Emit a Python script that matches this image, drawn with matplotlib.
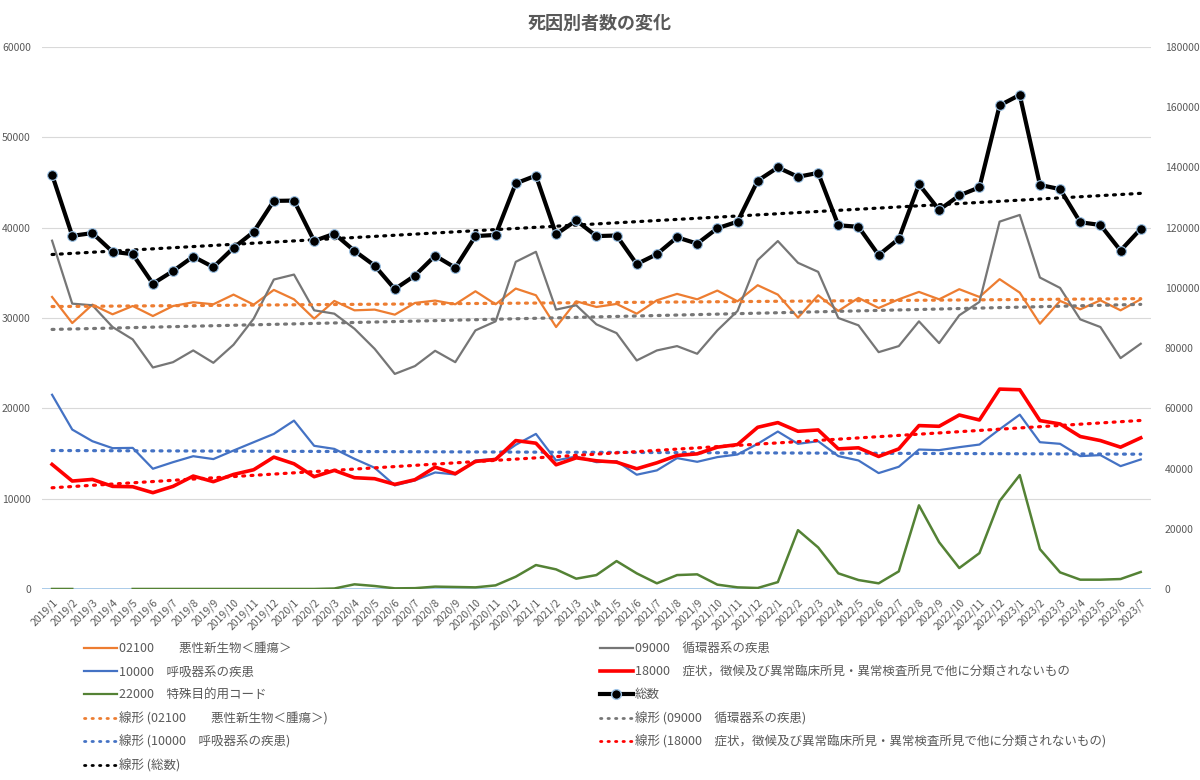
import numpy as np
import matplotlib
matplotlib.use("Agg")
import matplotlib.pyplot as plt
from matplotlib.lines import Line2D

plt.rcParams['font.family'] = ['Noto Sans CJK JP', 'DejaVu Sans']

# 2019/1 .. 2023/7
months = [f"{y}/{m}" for y in range(2019, 2024) for m in range(1, 13)][:55]

# 02100 悪性新生物
s02100 = [32330, 29440, 31480, 30410, 31330, 30220, 31330, 31740, 31520, 32590,
          31480, 33110, 32070, 29930, 31890, 30850, 30930, 30370, 31670, 31930,
          31520, 32960, 31520, 33260, 32520, 29000, 31850, 31220, 31560, 30480,
          31960, 32670, 32070, 33040, 31850, 33630, 32590, 30040, 32520, 30780,
          32220, 31110, 32070, 32890, 32070, 33190, 32330, 34300, 32810, 29370,
          31890, 30960, 31960, 30850, 32070]
# 09000 循環器系の疾患
s09000 = [38560, 31590, 31410, 29000, 27630, 24520, 25110, 26410, 25040, 27040,
          29930, 34260, 34810, 30850, 30480, 28810, 26590, 23810, 24680, 26370,
          25110, 28630, 29630, 36220, 37330, 30930, 31410, 29300, 28330, 25300,
          26410, 26890, 26040, 28630, 30780, 36410, 38520, 36110, 35110, 30000,
          29190, 26220, 26890, 29630, 27220, 30300, 31780, 40670, 41410, 34480,
          33330, 29850, 29000, 25560, 27150]
# 10000 呼吸器系の疾患
s10000 = [21500, 17650, 16360, 15590, 15620, 13310, 14040, 14700, 14380, 15330,
          16250, 17170, 18640, 15850, 15510, 14410, 13420, 11470, 12020, 12900,
          12680, 14230, 14410, 15960, 17170, 14230, 14670, 14040, 14150, 12650,
          13130, 14490, 14080, 14600, 14890, 16070, 17430, 16070, 16360, 14710,
          14230, 12830, 13530, 15440, 15370, 15700, 15990, 17680, 19300, 16250,
          16070, 14710, 14820, 13600, 14340]
# 18000 症状，徴候及び異常臨床所見...
s18000 = [13790, 11950, 12130, 11360, 11320, 10660, 11360, 12500, 11880, 12680,
          13200, 14600, 13860, 12430, 13130, 12320, 12210, 11580, 12100, 13490,
          12760, 14120, 14340, 16430, 16140, 13750, 14520, 14190, 14040, 13310,
          13970, 14780, 14960, 15700, 15990, 17900, 18420, 17460, 17610, 15510,
          15630, 14670, 15510, 18090, 18010, 19260, 18710, 22130, 22060, 18640,
          18270, 16880, 16430, 15700, 16730]
# 22000 特殊目的用コード
s22000 = [0, 0, np.nan, np.nan, 0, 0, 0, 0, 0, 0,
          0, 0, 0, 0, 50, 515, 330, 70, 90, 260,
          220, 180, 400, 1360, 2650, 2170, 1140, 1540, 3090, 1730,
          625, 1540, 1620, 480, 180, 110, 760, 6510, 4600, 1730,
          990, 625, 1950, 9260, 5180, 2320, 3970, 9740, 12610, 4410,
          1840, 1030, 1030, 1100, 1880]
# 総数 (right axis)
total = [137600, 117300, 118200, 112000, 111200, 101400, 105600, 110400, 106900, 113300,
         118600, 128900, 129000, 115600, 118000, 112300, 107400, 99600, 104100, 110700,
         106700, 117200, 117600, 134700, 137300, 117800, 122400, 117200, 117400, 107900,
         111200, 116800, 114700, 119800, 122000, 135600, 140000, 136900, 138200, 120800,
         120300, 110900, 116300, 134400, 125900, 130700, 133400, 160600, 164100, 134200,
         132800, 121800, 120900, 112400, 119600]

lab02100 = "02100\u3000\u3000悪性新生物＜腫瘍＞"
lab09000 = "09000\u3000循環器系の疾患"
lab10000 = "10000\u3000呼吸器系の疾患"
lab18000 = "18000\u3000症状，徴候及び異常臨床所見・異常検査所見で他に分類されないもの"
lab22000 = "22000\u3000特殊目的用コード"
labtotal = "総数"

c_orange = "#ED7D31"
c_gray = "#767676"
c_blue = "#4472C4"
c_red = "#FF0000"
c_green = "#548235"
c_text = "#595959"

x = np.arange(len(months))

fig = plt.figure(figsize=(12, 7.8), dpi=100)
ax = fig.add_axes([0.035, 0.2449, 0.924, 0.6948])
ax2 = ax.twinx()


def trend(vals):
    v = np.array(vals, dtype=float)
    k, b = np.polyfit(x + 1, v, 1)
    return k * (x + 1) + b


dot = dict(linestyle=(0, (0.6, 2.0)), dash_capstyle="round", lw=2.3)

ax.plot(x, s02100, color=c_orange, lw=1.6, zorder=3)
ax.plot(x, s09000, color=c_gray, lw=1.6, zorder=3)
ax.plot(x, s10000, color=c_blue, lw=1.6, zorder=3)
ax.plot(x, s18000, color=c_red, lw=2.6, zorder=4)
ax.plot(x, s22000, color=c_green, lw=1.8, zorder=3)
ax.plot(x, trend(s02100), color=c_orange, zorder=3, **dot)
ax.plot(x, trend(s09000), color=c_gray, zorder=3, **dot)
ax.plot(x, trend(s10000), color=c_blue, zorder=3, **dot)
ax.plot(x, trend(s18000), color=c_red, zorder=3, **dot)

ax2.plot(x, total, color="black", lw=3, marker="o", markersize=7,
         markerfacecolor="black", markeredgecolor="#9DC3E6", markeredgewidth=0.8, zorder=5)
ax2.plot(x, trend(total), color="black", zorder=4, **dot)

ax.set_xlim(-0.5, len(months) - 0.5)
ax.set_ylim(0, 60000)
ax2.set_ylim(0, 180000)
ax.set_yticks(np.arange(0, 60001, 10000))
ax2.set_yticks(np.arange(0, 180001, 20000))
ax.set_xticks(x)
ax.set_xticklabels(months, rotation=45, ha="right", rotation_mode="anchor", fontsize=7.5, color=c_text)
ax.tick_params(axis="x", length=0, pad=6)
ax.tick_params(axis="y", length=0, labelsize=7.5, labelcolor=c_text, pad=8)
ax2.tick_params(axis="y", length=0, labelsize=7.5, labelcolor=c_text, pad=10)
ax.grid(axis="y", color="#D9D9D9", lw=0.8)
ax.set_axisbelow(True)
for a in (ax, ax2):
    for s in ("top", "left", "right", "bottom"):
        a.spines[s].set_visible(False)
ax.axhline(0, color="#9DC3E6", lw=1.2, zorder=2)

fig.text(0.5, 0.970, "死因別者数の変化", ha="center", va="center", fontsize=13,
         color=c_text, fontweight="bold")

h = lambda c, lw=1.6: Line2D([], [], color=c, lw=lw)
hd = lambda c: Line2D([], [], color=c, linestyle=(0, (0.5, 2.2)), dash_capstyle="round", lw=2.0)
left_handles = [h(c_orange), h(c_blue), h(c_green), hd(c_orange), hd(c_blue), hd("black")]
left_labels = [lab02100, lab10000, lab22000, f"線形 ({lab02100})", f"線形 ({lab10000})", f"線形 ({labtotal})"]
right_handles = [h(c_gray), h(c_red, 2.6),
                 Line2D([], [], color="black", lw=3, marker="o", markersize=7,
                        markerfacecolor="black", markeredgecolor="#9DC3E6"),
                 hd(c_gray), hd(c_red)]
right_labels = [lab09000, lab18000, labtotal, f"線形 ({lab09000})", f"線形 ({lab18000})"]

leg_kw = dict(loc="upper left", frameon=False, fontsize=9, handlelength=2.6,
              handletextpad=0.2, labelspacing=0.82, borderpad=0, borderaxespad=0,
              labelcolor=c_text)
fig.legend(left_handles, left_labels, bbox_to_anchor=(0.07, 0.177), **leg_kw)
fig.legend(right_handles, right_labels, bbox_to_anchor=(0.5, 0.177), **leg_kw)

fig.savefig("out.png", dpi=100)
